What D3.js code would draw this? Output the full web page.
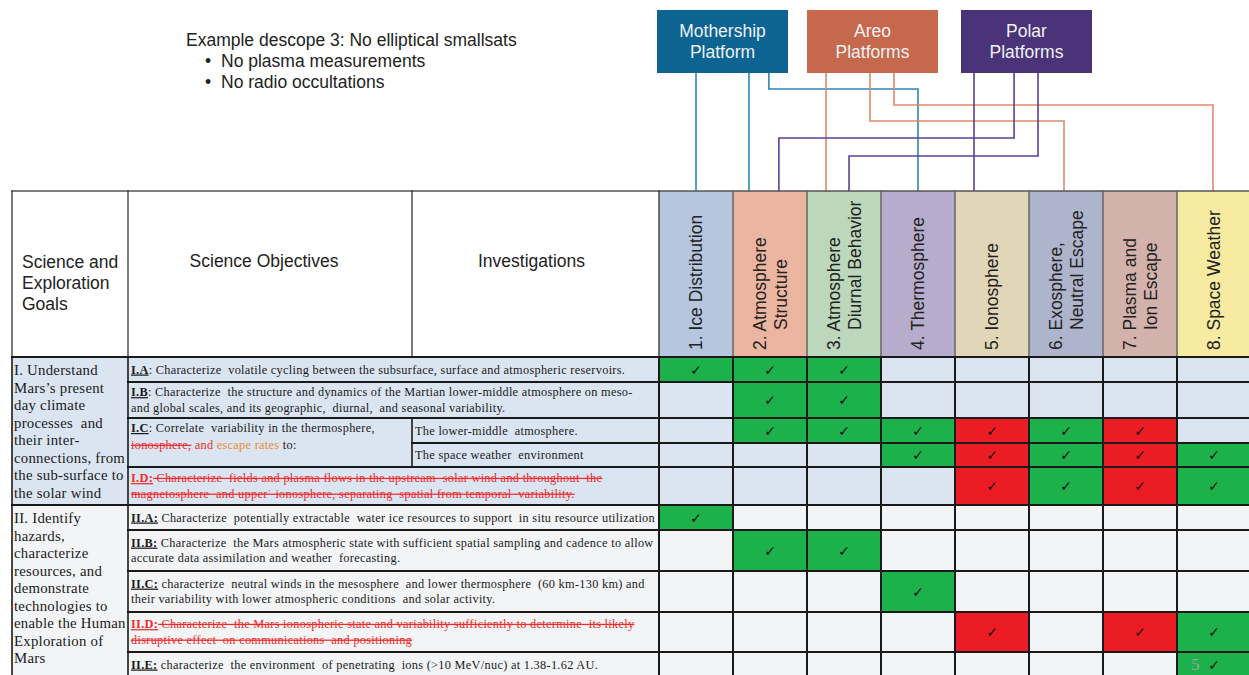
<!DOCTYPE html>
<html><head><meta charset="utf-8">
<script src="https://cdn.jsdelivr.net/npm/d3@7"></script>
<style>
html,body{margin:0;padding:0;background:#fff;}
svg{display:block;}
</style></head><body>
<svg id="c" width="1249" height="675"></svg>
<script>
// ================= DATA =================
const titleText = "Example descope 3: No elliptical smallsats";
const bulletItems = ["No plasma measurements", "No radio occultations"];

const platformNames = [["Mothership", "Platform"], ["Areo", "Platforms"], ["Polar", "Platforms"]];
const platformColors = ["#0d6391", "#c6684b", "#4a3379"];
const platformLineColors = ["#2d87b5", "#e0896b", "#5d3f98"];

// platform index -> target column index
const links = [
  [0, 0], [0, 1], [0, 3],
  [1, 2], [1, 5], [1, 7],
  [2, 4], [2, 1], [2, 2]
];

const headerTitles = [["Science and", "Exploration", "Goals"], ["Science Objectives"], ["Investigations"]];

const categories = [
  ["1. Ice Distribution"],
  ["2. Atmosphere", "Structure"],
  ["3. Atmosphere", "Diurnal Behavior"],
  ["4. Thermosphere"],
  ["5. Ionosphere"],
  ["6. Exosphere,", "Neutral Escape"],
  ["7. Plasma and", "Ion Escape"],
  ["8. Space Weather"]
];
const categoryColors = ["#b5c6de", "#ecb5a0", "#bdd7bd", "#b8accc", "#e2d6b9", "#aeb4cb", "#d3b2ac", "#f7eaa1"];

const goals = [
  ["I. Understand", "Mars\u2019s present", "day climate", "processes  and", "their inter-", "connections, from", "the sub-surface to", "the solar wind"],
  ["II. Identify", "hazards,", "characterize", "resources, and", "demonstrate", "technologies to", "enable the Human", "Exploration of", "Mars"]
];
const goalRows = [[0, 4], [5, 9]];

const rowKeys = ["I.A", "I.B", "I.C-1", "I.C-2", "I.D", "II.A", "II.B", "II.C", "II.D", "II.E"];
const rowSection = [0, 0, 0, 0, 0, 1, 1, 1, 1, 1];

// G = green check, R = red check, "" = empty
const marks = [
  ["G", "G", "G", "", "", "", "", ""],
  ["", "G", "G", "", "", "", "", ""],
  ["", "G", "G", "G", "R", "G", "R", ""],
  ["", "", "", "G", "R", "G", "R", "G"],
  ["", "", "", "", "R", "G", "R", "G"],
  ["G", "", "", "", "", "", "", ""],
  ["", "G", "G", "", "", "", "", ""],
  ["", "", "", "G", "", "", "", ""],
  ["", "", "", "", "R", "", "R", "G"],
  ["", "", "", "", "", "", "", "G"]
];

// objectives: [firstRow, lastRow, lines(segments [text, style])]
const objectives = [
  [0, 0, [[["I.A", "lab"], [": Characterize  volatile cycling between the subsurface, surface and atmospheric reservoirs.", "n"]]]],
  [1, 1, [[["I.B", "lab"], [": Characterize  the structure and dynamics of the Martian lower-middle atmosphere on meso-", "n"]],
          [["and global scales, and its geographic,  diurnal,  and seasonal variability.", "n"]]]],
  [2, 3, [[["I.C", "lab"], [": Correlate  variability in the thermosphere,", "n"]],
          [["ionosphere,", "del"], [" and", "red"], [" escape rates", "org"], [" to:", "n"]]]],
  [4, 4, [[["I.D:", "labred"], [" Characterize  fields and plasma flows in the upstream  solar wind and throughout  the", "del"]],
          [["magnetosphere  and upper\u02d9 ionosphere, separating  spatial from temporal  variability.", "del"]]]],
  [5, 5, [[["II.A:", "lab"], [" Characterize  potentially extractable  water ice resources to support  in situ resource utilization", "n"]]]],
  [6, 6, [[["II.B:", "lab"], [" Characterize  the Mars atmospheric state with sufficient spatial sampling and cadence to allow", "n"]],
          [["accurate data assimilation and weather  forecasting.", "n"]]]],
  [7, 7, [[["II.C:", "lab"], [" characterize  neutral winds in the mesosphere  and lower thermosphere  (60 km-130 km) and", "n"]],
          [["their variability with lower atmospheric conditions  and solar activity.", "n"]]]],
  [8, 8, [[["II.D:", "labred"], [" Characterize  the Mars ionospheric state and variability sufficiently to determine  its likely", "del"]],
          [["disruptive effect  on communications  and positioning", "del"]]]],
  [9, 9, [[["II.E:", "lab"], [" characterize  the environment  of penetrating  ions (>10 MeV/nuc) at 1.38-1.62 AU.", "n"]]]]
];
const investigations = [[2, "The lower-middle  atmosphere."], [3, "The space weather  environment"]];
const pageNumber = "5";

// ================= LAYOUT =================
const tableTop = 191, headBottom = 357;
const xLeft = 12, xGoal = 128, xInv = 412, xMat = 659, colW = 74;
const rowHeights = [25, 36, 25, 24, 38, 25, 41, 41, 40, 25];
const platformX = [657, 807, 961], platformW = 131, platformY = 10, platformH = 63;
// per link: [start fraction across box (null = straight), end fraction across column, elbow y]
const linkLayout = [
  [null, 0.5, 0], [null, 0.216, 0], [0.854, 0.5, 89],
  [null, 0.257, 0], [0.481, 0.473, 121], [0.664, 0.486, 105],
  [null, 0.257, 0], [0.405, 0.62, 138], [0.588, 0.568, 156]
];
const sans = "'Liberation Sans', Arial, sans-serif";
const serif = "'Liberation Serif', 'DejaVu Serif', serif";

// ================= SCALES =================
const x = d3.scaleBand().domain(d3.range(categories.length)).range([xMat, xMat + colW * categories.length]);
const rowEdges = [headBottom, ...d3.cumsum(rowHeights).map(v => headBottom + v)];
const yTop = i => rowEdges[i], yBot = i => rowEdges[i + 1];
const platX = d3.scaleOrdinal().domain(d3.range(3)).range(platformX);

const svg = d3.select("#c");
svg.append("rect").attr("width", 1249).attr("height", 675).attr("fill", "#fff");

// ---------- title ----------
svg.append("text").attr("x", 186).attr("y", 46).attr("font-family", sans).attr("font-size", 17.5)
  .attr("fill", "#222").text(titleText);
bulletItems.forEach((b, i) => {
  svg.append("text").attr("x", 205).attr("y", 67 + i * 21).attr("font-family", sans).attr("font-size", 17.5)
    .attr("fill", "#222").text("\u2022");
  svg.append("text").attr("x", 221).attr("y", 67 + i * 21).attr("font-family", sans).attr("font-size", 17.5)
    .attr("fill", "#222").text(b);
});

// ---------- connectors ----------
const gLinks = svg.append("g").attr("fill", "none").attr("stroke-width", 1.6);
links.forEach(([p, c], i) => {
  const [sf, ef, ey] = linkLayout[i];
  const xe = x(c) + ef * x.bandwidth();
  let d;
  if (sf === null) d = `M${xe},${platformY + platformH}V${tableTop}`;
  else {
    const xs = platX(p) + sf * platformW;
    d = `M${xs},${platformY + platformH}V${ey}H${xe}V${tableTop}`;
  }
  gLinks.append("path").attr("d", d).attr("stroke", platformLineColors[p]);
});

// ---------- platforms ----------
const gp = svg.append("g").selectAll("g").data(platformNames).join("g")
  .attr("transform", (d, i) => `translate(${platX(i)},${platformY})`);
gp.append("rect").attr("width", platformW).attr("height", platformH)
  .attr("fill", (d, i) => platformColors[i]);
gp.each(function(d) {
  d.forEach((t, j) => d3.select(this).append("text").attr("x", platformW / 2).attr("y", 27 + j * 21)
    .attr("text-anchor", "middle").attr("font-family", sans).attr("font-size", 17.5)
    .attr("fill", "#eef2f6").text(t));
});

// ---------- background fills ----------
svg.append("rect").attr("x", xLeft).attr("y", tableTop).attr("width", xMat - xLeft).attr("height", headBottom - tableTop).attr("fill", "#fff");
const secFill = ["#dbe5f1", "#f3f4f6"];
goalRows.forEach(([a, b], s) => {
  svg.append("rect").attr("x", xLeft).attr("y", yTop(a)).attr("width", xMat - xLeft).attr("height", yBot(b) - yTop(a)).attr("fill", secFill[s]);
});
// header category cells
svg.append("g").selectAll("rect").data(categories).join("rect")
  .attr("x", (d, i) => x(i)).attr("y", tableTop).attr("width", x.bandwidth()).attr("height", headBottom - tableTop)
  .attr("fill", (d, i) => categoryColors[i]);
// matrix cells
const cellColor = {G: "#1db14b", R: "#ec1c24"};
const cells = [];
marks.forEach((r, ri) => r.forEach((m, ci) => cells.push({ri, ci, m})));
svg.append("g").selectAll("rect").data(cells).join("rect")
  .attr("x", d => x(d.ci)).attr("y", d => yTop(d.ri)).attr("width", x.bandwidth()).attr("height", d => yBot(d.ri) - yTop(d.ri))
  .attr("fill", d => d.m ? cellColor[d.m] : secFill[rowSection[d.ri]]);

// ---------- grid lines ----------
const gl = svg.append("g").attr("stroke-linecap", "square");
const line = (x1, y1, x2, y2, c, w) => gl.append("line").attr("x1", x1).attr("y1", y1).attr("x2", x2).attr("y2", y2).attr("stroke", c).attr("stroke-width", w);
const xEnd = xMat + colW * categories.length;
// header
line(xLeft, tableTop, 1249, tableTop, "#555", 1.5);
[xLeft, xGoal, xInv, xMat].forEach(v => line(v, tableTop, v, headBottom, "#333", 1.3));
d3.range(1, categories.length).forEach(i => line(x(i), tableTop, x(i), headBottom, "#666", 1.5));
// rows
rowEdges.forEach((yy, i) => {
  if (i === 0 || i === 5) line(xLeft, yy, xEnd, yy, "#1a1a1a", 2);
  else if (i === 3) line(xInv, yy, xEnd, yy, "#1a1a1a", 2);
  else line(xGoal, yy, xEnd, yy, "#1a1a1a", 2);
});
const yLast = rowEdges[rowEdges.length - 1];
[xLeft, xGoal].forEach(v => line(v, headBottom, v, yLast, "#1a1a1a", 1.6));
line(xInv, yTop(2), xInv, yBot(3), "#1a1a1a", 1.6);
d3.range(0, categories.length).forEach(i => line(x(i), headBottom, x(i), yLast, "#1a1a1a", 2));

// ---------- header texts ----------
headerTitles[0].forEach((t, j) => svg.append("text").attr("x", 22).attr("y", 268 + j * 21)
  .attr("font-family", sans).attr("font-size", 17.5).attr("fill", "#222").text(t));
svg.append("text").attr("x", (xGoal + xInv) / 2 - 6).attr("y", 267).attr("text-anchor", "middle")
  .attr("font-family", sans).attr("font-size", 17.5).attr("fill", "#222").text(headerTitles[1][0]);
svg.append("text").attr("x", (xInv + xMat) / 2 - 4).attr("y", 267).attr("text-anchor", "middle")
  .attr("font-family", sans).attr("font-size", 17.5).attr("fill", "#222").text(headerTitles[2][0]);

categories.forEach((lines, i) => {
  const cx = x(i) + x.bandwidth() / 2;
  lines.forEach((t, j) => {
    const bx = lines.length === 1 ? cx + 6 : cx - 4.5 + j * 21;
    const by = 350 - (j > 0 ? 20 : 0);
    svg.append("text").attr("transform", `translate(${bx},${by}) rotate(-90)`)
      .attr("font-family", sans).attr("font-size", 17.5).attr("fill", "#222").text(t);
  });
});

// ---------- goal texts ----------
goals.forEach((lines, s) => {
  const top = yTop(goalRows[s][0]);
  lines.forEach((t, j) => svg.append("text").attr("x", 14).attr("y", top + 18 + j * 17.5)
    .attr("font-family", serif).attr("font-size", 14.8).attr("letter-spacing", 0.25).attr("fill", "#1a1a1a")
    .style("white-space", "pre").text(t));
});

// ---------- objective texts ----------
const segStyle = {
  n: {fill: "#1a1a1a"},
  lab: {fill: "#1a1a1a", weight: "bold", deco: "underline"},
  labred: {fill: "#ee2a2a", weight: "bold", deco: "underline"},
  del: {fill: "#ee2a2a", deco: "line-through"},
  red: {fill: "#ee2a2a"},
  org: {fill: "#ea8a2f"}
};
function drawTextLine(xx, yy, segs, maxW, size) {
  const t = svg.append("text").attr("x", xx).attr("y", yy).attr("font-family", serif).attr("font-size", size)
    .attr("letter-spacing", 0.3).style("white-space", "pre");
  segs.forEach(([txt, st]) => {
    const s = segStyle[st];
    const ts = t.append("tspan").text(txt).attr("fill", s.fill);
    if (s.weight) ts.attr("font-weight", s.weight);
    if (s.deco) ts.style("text-decoration", s.deco);
  });
  const w = t.node().getComputedTextLength();
  if (w > maxW) t.attr("textLength", maxW).attr("lengthAdjust", "spacingAndGlyphs");
}
const objSize = 12.3;
objectives.forEach(([a, b, lines]) => {
  const top = yTop(a), bot = yBot(b);
  const right = (a === 2) ? xInv : xMat;
  const maxW = right - xGoal - 7;
  if (a === 2) {
    lines.forEach((segs, j) => drawTextLine(xGoal + 3, top + 14 + j * 17, segs, maxW, objSize));
  } else {
    const mid = (top + bot) / 2;
    const n = lines.length;
    lines.forEach((segs, j) => drawTextLine(xGoal + 3, mid + 4 + (j - (n - 1) / 2) * 15.8, segs, maxW, objSize));
  }
});
investigations.forEach(([r, t]) => {
  drawTextLine(xInv + 3, (yTop(r) + yBot(r)) / 2 + 4, [[t, "n"]], xMat - xInv - 8, objSize);
});

// ---------- check marks ----------
svg.append("g").selectAll("text").data(cells.filter(d => d.m)).join("text")
  .attr("x", d => x(d.ci) + x.bandwidth() / 2).attr("y", d => (yTop(d.ri) + yBot(d.ri)) / 2 + 5)
  .attr("text-anchor", "middle").attr("font-family", "'DejaVu Sans', sans-serif").attr("font-size", 14)
  .attr("fill", "#111").text("\u2713");

// page number
svg.append("text").attr("x", x(7) + 14).attr("y", yTop(9) + 18).attr("font-family", serif)
  .attr("font-size", 17).attr("fill", "#9aa39e").text(pageNumber);
</script>
</body></html>
